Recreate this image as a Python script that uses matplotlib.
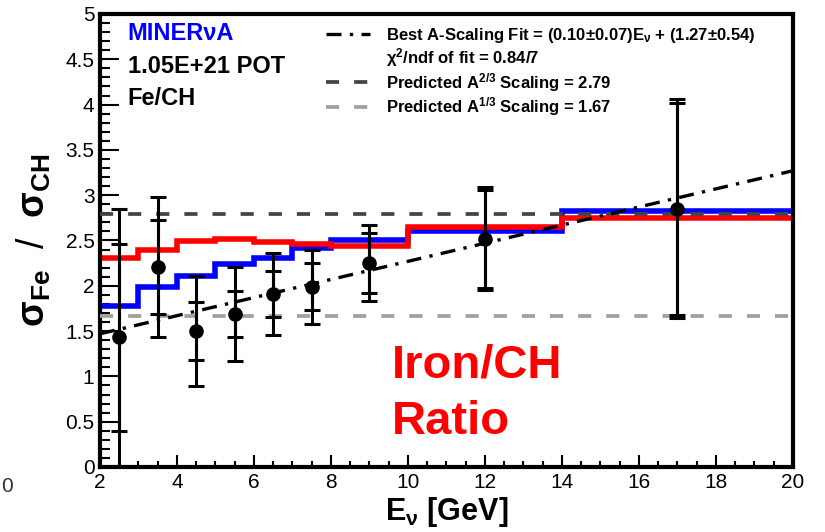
import matplotlib
matplotlib.use("Agg")
import matplotlib.pyplot as plt
import numpy as np
from matplotlib.lines import Line2D
from matplotlib.ticker import MultipleLocator

plt.rcParams["font.family"] = ["Liberation Sans", "DejaVu Sans"]
plt.rcParams["mathtext.fontset"] = "custom"
plt.rcParams["mathtext.rm"] = "Liberation Sans:bold"
plt.rcParams["mathtext.it"] = "Liberation Sans:bold"
plt.rcParams["mathtext.bf"] = "Liberation Sans:bold"
plt.rcParams["mathtext.sf"] = "Liberation Sans:bold"
plt.rcParams["mathtext.default"] = "rm"

# measured Fe/CH ratio per neutrino-energy bin
e_nu = [2.5, 3.5, 4.5, 5.5, 6.5, 7.5, 9.0, 12.0, 17.0]
ratio = [1.43, 2.21, 1.50, 1.69, 1.91, 1.99, 2.25, 2.52, 2.85]
err_stat = [1.03, 0.52, 0.32, 0.25, 0.25, 0.26, 0.33, 0.54, 1.17]
err_tot = [1.42, 0.77, 0.61, 0.52, 0.45, 0.41, 0.42, 0.57, 1.21]

# simulated ratios (step histograms)
bin_edges = [2, 3, 4, 5, 6, 7, 8, 10, 14, 20]
sim_blue = [1.78, 1.99, 2.11, 2.24, 2.31, 2.42, 2.50, 2.60, 2.83]
sim_red = [2.31, 2.40, 2.49, 2.52, 2.48, 2.46, 2.44, 2.65, 2.75]

# A-scaling fit and predictions
fit_slope, fit_icept = 0.10, 1.27
pred_a23, pred_a13 = 2.79, 1.67

fig = plt.figure(figsize=(8.25, 5.32), dpi=100)
ax = fig.add_axes([0.1212, 0.1222, 0.84, 0.8515])

ax.stairs(sim_blue, bin_edges, baseline=None, color="#0000ff", lw=4.0, zorder=2)
ax.stairs(sim_red, bin_edges, baseline=None, color="#ff0000", lw=4.0, zorder=2)

dash = (3.5, 4.0)
l23 = ax.axhline(pred_a23, color="#444444", lw=2.7, dashes=dash, zorder=3)
l13 = ax.axhline(pred_a13, color="#a0a0a0", lw=2.7, dashes=dash, zorder=3)

xf = np.array([bin_edges[0], bin_edges[-1]], float)
lfit, = ax.plot(xf, fit_slope * xf + fit_icept, color="black", lw=2.4,
                dashes=(4.5, 2.5, 1.0, 2.5), zorder=4)

ax.errorbar(e_nu, ratio, yerr=err_tot, fmt="none", ecolor="black",
            elinewidth=2.2, capsize=5.5, capthick=2.2, zorder=5)
ax.errorbar(e_nu, ratio, yerr=err_stat, fmt="o", color="black", ms=9.5,
            ecolor="black", elinewidth=2.2, capsize=5.5, capthick=2.2, zorder=6)

ax.set_xlim(2, 20)
ax.set_ylim(0, 5)
ax.xaxis.set_major_locator(MultipleLocator(2))
ax.xaxis.set_minor_locator(MultipleLocator(0.5))
ax.yaxis.set_major_locator(MultipleLocator(0.5))
ax.yaxis.set_minor_locator(MultipleLocator(0.1))
ax.yaxis.set_major_formatter(lambda v, p: f"{v:g}")
ax.tick_params(which="both", direction="in", top=False, right=False,
               width=1.5, labelsize=15)
ax.tick_params(axis="y", which="major", length=14, pad=4)
ax.tick_params(axis="y", which="minor", length=7)
ax.tick_params(axis="x", which="major", length=8.5, pad=4)
ax.tick_params(axis="x", which="minor", length=4.5)
for s in ax.spines.values():
    s.set_linewidth(3)

ax.set_xlabel(r"E$_{\nu}$ [GeV]", fontsize=22, fontweight="bold")
ax.xaxis.set_label_coords(0.5, -0.062)
ax.set_ylabel(r"$\sigma_{Fe}$  /  $\sigma_{CH}$", fontsize=27)
ax.yaxis.set_label_coords(-0.068, 0.5)

tb = dict(transform=ax.transAxes, fontsize=17, fontweight="bold", va="baseline")
ax.text(0.04, 0.943, "MINERνA", color="#0000ff", **tb)
ax.text(0.04, 0.870, "1.05E+21 POT", color="black", **tb)
ax.text(0.04, 0.799, "Fe/CH", color="black", **tb)

ax.text(0.421, 0.272, "Iron/CH\nRatio", transform=ax.transAxes, color="#ff0000",
        fontsize=34, fontweight="bold", va="top", linespacing=1.36)

blank = Line2D([], [], alpha=0)
handles = [lfit, blank, l23, l13]
labels = [r"Best A-Scaling Fit = (0.10$\pm$0.07)E$_{\nu}$ + (1.27$\pm$0.54)",
          r"$\chi^{2}$/ndf of fit = 0.84/7",
          r"Predicted A$^{2/3}$ Scaling = 2.79",
          r"Predicted A$^{1/3}$ Scaling = 1.67"]
ax.legend(handles, labels, loc="upper left", bbox_to_anchor=(0.31, 1.0),
          frameon=False, prop=dict(size=12, weight="bold"), handlelength=2.6,
          handletextpad=1.0, labelspacing=0.1, borderpad=0.2)

fig.text(0.001, 0.075, "0", fontsize=15, color="#333333")

fig.savefig("out.png", dpi=100)
